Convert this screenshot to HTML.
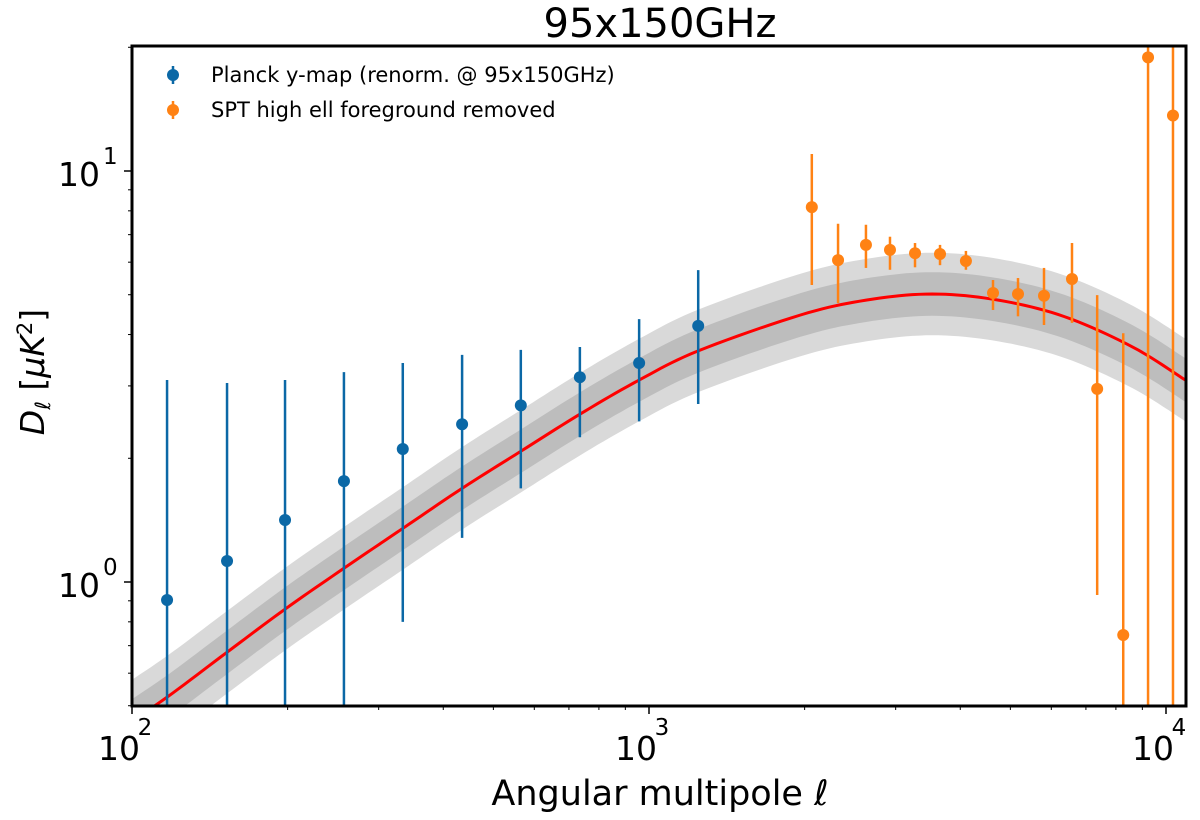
<!DOCTYPE html>
<html><head><meta charset="utf-8"><style>
body{margin:0;background:#fff}
svg text{font-family:"DejaVu Sans","Liberation Sans",sans-serif}
</style></head><body>
<svg id="chart" width="1200" height="815" xmlns="http://www.w3.org/2000/svg"></svg>
<script>
const planckEll=[116.9,152.7,197.7,257,334,435,565,735,957,1245];
const planckVal=[0.904,1.125,1.415,1.76,2.107,2.42,2.69,3.15,3.41,4.20];
const planckHi=[3.10,3.05,3.10,3.24,3.41,3.57,3.67,3.73,4.36,5.74];
const planckLo=[0.3,0.3,0.3,0.3,0.80,1.28,1.69,2.25,2.46,2.71];
const sptEll=[2065,2321,2628,2925,3270,3655,4102,4628,5173,5808,6579,7360,8266,9232,10316];
const sptVal=[8.17,6.07,6.61,6.43,6.31,6.28,6.04,5.05,5.02,4.97,5.46,2.95,0.743,18.9,13.65];
const sptHi=[11.0,7.44,7.40,6.92,6.68,6.61,6.39,5.43,5.49,5.81,6.68,4.99,4.03,25,25];
const sptLo=[5.28,4.77,5.81,5.75,5.83,5.90,5.75,4.59,4.43,4.22,4.27,0.93,0.3,0.3,0.3];
const modelEll=[95,117,153,198,257,334,435,565,735,957,1245,1960,2630,3530,4740,6370,8620,10900];
const modelVal=[0.44,0.525,0.676,0.86,1.08,1.35,1.69,2.08,2.56,3.10,3.65,4.46,4.85,5.02,4.85,4.42,3.73,3.10];
const bandDark=1.13, bandLight=1.26;
const xTicks=[100,1000,10000], xTickExp=["2","3","4"];
const yTicks=[1,10], yTickExp=["0","1"];

const L=132,R=1186,T=46,B=706;
const XMIN=2, DEC_X=517, YDEC=411, Y1=171;
const sx=v=>L+(Math.log10(v)-XMIN)*DEC_X;
const sy=v=>Y1-(Math.log10(v)-1)*YDEC;
const NS="http://www.w3.org/2000/svg";
const svg=document.getElementById('chart');
function mk(tag,attrs,parent){const e=document.createElementNS(NS,tag);for(const k in attrs)e.setAttribute(k,attrs[k]);(parent||svg).appendChild(e);return e;}

const defs=mk('defs',{});
const cp=mk('clipPath',{id:'clip'},defs);mk('rect',{x:L,y:T,width:R-L,height:B-T},cp);
const plot=mk('g',{'clip-path':'url(#clip)'});



function curvePts(f){
  const pts=[];
  for(let i=0;i<modelEll.length-1;i++){
    const p0=i>0?i-1:i,p3=i+2<modelEll.length?i+2:i+1;
    const X=[p0,i,i+1,p3].map(j=>Math.log10(modelEll[j]));
    const Y=[p0,i,i+1,p3].map(j=>Math.log10(modelVal[j]*f));
    for(let s=0;s<10;s++){const t=s/10;
      const cr=a=>0.5*((2*a[1])+(-a[0]+a[2])*t+(2*a[0]-5*a[1]+4*a[2]-a[3])*t*t+(-a[0]+3*a[1]-3*a[2]+a[3])*t*t*t);
      pts.push([sx(Math.pow(10,cr(X))),sy(Math.pow(10,cr(Y)))]);}
  }
  const n=modelEll.length-1;pts.push([sx(modelEll[n]),sy(modelVal[n]*f)]);
  return pts;
}
function band(f,color,name){
  const up=curvePts(f),lo=curvePts(1/f).reverse();
  const d='M'+up.concat(lo).map(p=>p[0].toFixed(1)+','+p[1].toFixed(1)).join('L')+'Z';
  const p=mk('path',{d,fill:color,stroke:'none'},plot);
  
  
}
band(bandLight,'#d9d9d9','model-band-2sigma');
band(bandDark,'#bdbdbd','model-band-1sigma');
const mline=mk('polyline',{points:curvePts(1).map(p=>p.join(',')).join(' '),fill:'none',stroke:'#ff0000','stroke-width':3},plot);



function series(ells,vals,hi,lo,color,name){
  const g=mk('g',{},plot);
  
  
  ells.forEach((e,i)=>{
    const x=sx(e);
    const l=mk('line',{x1:x,x2:x,y1:sy(hi[i]),y2:sy(lo[i]),stroke:color,'stroke-width':2.5},g);
    
    
    const c=mk('circle',{cx:x,cy:sy(vals[i]),r:6,fill:color},g);
    
    
  });
}
series(planckEll,planckVal,planckHi,planckLo,'#0b68a6','planck-series');
series(sptEll,sptVal,sptHi,sptLo,'#ff8214','spt-series');

const ax=mk('g',{});


for(let d=2;d<=4;d++)for(let m=1;m<10;m++){const v=m*Math.pow(10,d);const x=sx(v);if(x<L-1||x>R+1)continue;
  mk('line',{x1:x,x2:x,y1:B,y2:B+(m===1?8:4),stroke:'#000','stroke-width':m===1?1.5:1},ax);}
for(let d=-1;d<=1;d++)for(let m=1;m<10;m++){const v=m*Math.pow(10,d);const y=sy(v);if(y<T-1||y>B+1)continue;
  mk('line',{x1:L,x2:L-(m===1?8:4),y1:y,y2:y,stroke:'#000','stroke-width':m===1?1.5:1},ax);}
xTicks.forEach((v,i)=>{const x=sx(v);
  const t=mk('text',{x:x-13,y:760,'font-size':33,'text-anchor':'middle'},ax);t.textContent='10';
  
  
  const s=mk('text',{x:x+13,y:735,'font-size':23,'text-anchor':'middle'},ax);s.textContent=xTickExp[i];
  
  });
yTicks.forEach((v,i)=>{const y=sy(v);
  const t=mk('text',{x:100,y:y+15,'font-size':33,'text-anchor':'end'},ax);t.textContent='10';
  
  
  const s=mk('text',{x:103,y:y-7,'font-size':23,'text-anchor':'start'},ax);s.textContent=yTickExp[i];
  
  });
const fr=mk('rect',{x:L,y:T,width:R-L,height:B-T,fill:'none',stroke:'#000','stroke-width':3},ax);



let t=mk('text',{x:660,y:37,'font-size':40,'text-anchor':'middle'});t.textContent='95x150GHz';


t=mk('text',{x:660,y:805,'font-size':35,'text-anchor':'middle'});t.textContent='Angular multipole ';
const ts=mk('tspan',{'font-style':'italic'},t);ts.textContent='ℓ';


t=mk('text',{x:0,y:0,'font-size':33,'text-anchor':'middle',transform:'translate(44,372) rotate(-90)'});
t.innerHTML='<tspan font-style="italic">D</tspan><tspan font-style="italic" font-size="21" dy="6">ℓ</tspan><tspan dy="-6"> [</tspan><tspan font-style="italic">μK</tspan><tspan font-size="21" dy="-12">2</tspan><tspan dy="12">]</tspan>';



const lg=mk('g',{});


[['Planck y-map (renorm. @ 95x150GHz)','#0b68a6',75,'legend-entry-planck'],['SPT high ell foreground removed','#ff8214',110,'legend-entry-spt']].forEach(e=>{
  const g=mk('g',{},lg);
  
  
  mk('line',{x1:173,x2:173,y1:e[2]-9,y2:e[2]+9,stroke:e[1],'stroke-width':2.5},g);
  mk('circle',{cx:173,cy:e[2],r:6,fill:e[1]},g);
  const tx=mk('text',{x:211,y:e[2]+7,'font-size':21},g);tx.textContent=e[0];
});
</script>
</body></html>
